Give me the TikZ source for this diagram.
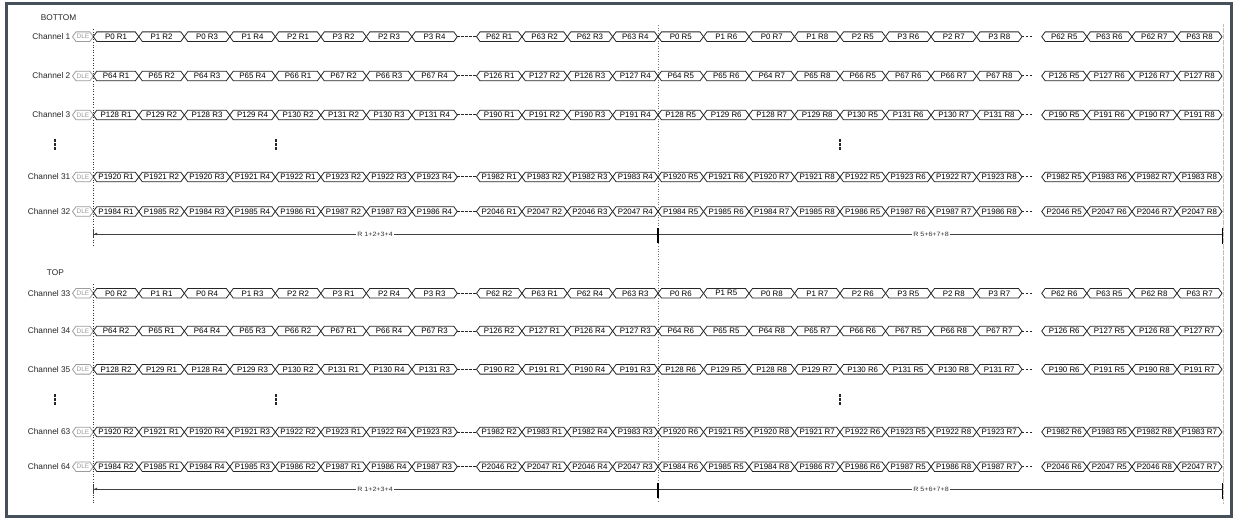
\documentclass[tikz,border=0pt]{standalone}
\usepackage{fontspec}
\setmainfont{Liberation Sans}
\usetikzlibrary{arrows.meta}
\definecolor{framec}{HTML}{46505A}
\definecolor{dlec}{HTML}{9C9C9C}
\newcommand\cellS{3.5}
\newcommand\cellH{4.8}
\tikzset{
  cellln/.style={draw=black!85, line width=0.8pt, line join=miter},
  dleln/.style={draw=dlec, line width=0.8pt},
  celltxt/.style={inner sep=0pt, font=\fontsize{7.9}{8}\selectfont, text=black},
  dletxt/.style={inner sep=0pt, font=\fontsize{6.5}{7}\selectfont, text=dlec},
  chlab/.style={inner sep=0pt, anchor=east, font=\fontsize{8.3}{9}\selectfont, text=black!85},
  seclab/.style={inner sep=0pt, anchor=west, font=\fontsize{8.3}{9}\selectfont, text=black!85},
  gapdash/.style={draw=black!85, line width=1pt, dash pattern=on 2.4pt off 1.6pt},
  vdots/.style={draw=black!85, line width=1.1pt, dash pattern=on 2.6pt off 1.6pt},
  bracketln/.style={draw=black!75, line width=0.8pt},
  ticknode/.style={draw=black, line width=1.6pt},
  brlab/.style={fill=white, inner sep=0.8pt, font=\fontsize{6.2}{7}\selectfont, text=black!80},
}
\newcommand\cellgrp[5]{%
  \foreach \t [count=\i from 0] in {#5} {%
    \pgfmathsetmacro\xL{#2+\i*#3}%
    \pgfmathsetmacro\xR{#2+(\i+1)*#3}%
    \pgfmathsetmacro\xM{#2+(\i+0.5)*#3}%
    \draw[cellln] (\xL,#1) -- (\xL+\cellS,#1-\cellH) -- (\xR-\cellS,#1-\cellH) -- (\xR,#1) -- (\xR-\cellS,#1+\cellH) -- (\xL+\cellS,#1+\cellH) -- cycle;
    \node[celltxt] (#4\i) at (\xM,#1) {\t};
  }%
}
\newcommand\chrow[6]{%
  \node[chlab] (lab#2) at (70.5,#1) {Channel #2};
  \draw[dleln] (72.5,#1) -- (72.5+\cellS,#1-\cellH) -- (93.3-\cellS,#1-\cellH) -- (93.3,#1) -- (93.3-\cellS,#1+\cellH) -- (72.5+\cellS,#1+\cellH) -- cycle;
  \node[dletxt] (dle#2) at (82.9,#1) {DLE};
  \cellgrp{#1}{93.3}{45.5}{c#2a}{#3}
  \coordinate (ga#2) at (457.3,#1);
  \coordinate (gb#2) at (476.5,#1);
  \draw[gapdash] (ga#2) -- (gb#2);
  \cellgrp{#1}{476.5}{45.375}{c#2b}{#4}
  \cellgrp{#1}{658}{45.5}{c#2c}{#5}
  \coordinate (gc#2) at (1022,#1);
  \coordinate (gd#2) at (1033,#1);
  \draw[gapdash] (gc#2) -- (gd#2);
  \cellgrp{#1}{1041.7}{45.075}{c#2d}{#6}
}
\begin{document}
\begin{tikzpicture}[x=1pt,y=-1pt]
\useasboundingbox (0,0) rectangle (1238,518);
\fill[white] (0,0) rectangle (1238,518);
% guide lines
\draw[black!80, line width=0.6pt, dotted] (93.3,29) -- (93.3,247);
\draw[black!80, line width=0.6pt, dotted] (93.3,284) -- (93.3,503);
\draw[black!55, line width=0.6pt, dotted] (658,25) -- (658,503);
\draw[black!25, line width=0.8pt, dash pattern=on 0.6pt off 0.6pt] (1223,24) -- (1223,503);
% section labels
\node[seclab] (secbottom) at (40.7,18) {BOTTOM};
\node[seclab] (sectop) at (46.7,273) {TOP};
% BOTTOM rows
\chrow{36.7}{1}{P0 R1,P1 R2,P0 R3,P1 R4,P2 R1,P3 R2,P2 R3,P3 R4}{P62 R1,P63 R2,P62 R3,P63 R4}{P0 R5,P1 R6,P0 R7,P1 R8,P2 R5,P3 R6,P2 R7,P3 R8}{P62 R5,P63 R6,P62 R7,P63 R8}
\chrow{76}{2}{P64 R1,P65 R2,P64 R3,P65 R4,P66 R1,P67 R2,P66 R3,P67 R4}{P126 R1,P127 R2,P126 R3,P127 R4}{P64 R5,P65 R6,P64 R7,P65 R8,P66 R5,P67 R6,P66 R7,P67 R8}{P126 R5,P127 R6,P126 R7,P127 R8}
\chrow{115}{3}{P128 R1,P129 R2,P128 R3,P129 R4,P130 R2,P131 R2,P130 R3,P131 R4}{P190 R1,P191 R2,P190 R3,P191 R4}{P128 R5,P129 R6,P128 R7,P129 R8,P130 R5,P131 R6,P130 R7,P131 R8}{P190 R5,P191 R6,P190 R7,P191 R8}
\chrow{177}{31}{P1920 R1,P1921 R2,P1920 R3,P1921 R4,P1922 R1,P1923 R2,P1922 R3,P1923 R4}{P1982 R1,P1983 R2,P1982 R3,P1983 R4}{P1920 R5,P1921 R6,P1920 R7,P1921 R8,P1922 R5,P1923 R6,P1922 R7,P1923 R8}{P1982 R5,P1983 R6,P1982 R7,P1983 R8}
\chrow{211.5}{32}{P1984 R1,P1985 R2,P1984 R3,P1985 R4,P1986 R1,P1987 R2,P1987 R3,P1986 R4}{P2046 R1,P2047 R2,P2046 R3,P2047 R4}{P1984 R5,P1985 R6,P1984 R7,P1985 R8,P1986 R5,P1987 R6,P1987 R7,P1986 R8}{P2046 R5,P2047 R6,P2046 R7,P2047 R8}
% TOP rows
\chrow{293.3}{33}{P0 R2,P1 R1,P0 R4,P1 R3,P2 R2,P3 R1,P2 R4,P3 R3}{P62 R2,P63 R1,P62 R4,P63 R3}{P0 R6,P1 R5,P0 R8,P1 R7,P2 R6,P3 R5,P2 R8,P3 R7}{P62 R6,P63 R5,P62 R8,P63 R7}
\chrow{331}{34}{P64 R2,P65 R1,P64 R4,P65 R3,P66 R2,P67 R1,P66 R4,P67 R3}{P126 R2,P127 R1,P126 R4,P127 R3}{P64 R6,P65 R5,P64 R8,P65 R7,P66 R6,P67 R5,P66 R8,P67 R7}{P126 R6,P127 R5,P126 R8,P127 R7}
\chrow{369.3}{35}{P128 R2,P129 R1,P128 R4,P129 R3,P130 R2,P131 R1,P130 R4,P131 R3}{P190 R2,P191 R1,P190 R4,P191 R3}{P128 R6,P129 R5,P128 R8,P129 R7,P130 R6,P131 R5,P130 R8,P131 R7}{P190 R6,P191 R5,P190 R8,P191 R7}
\chrow{432}{63}{P1920 R2,P1921 R1,P1920 R4,P1921 R3,P1922 R2,P1923 R1,P1922 R4,P1923 R3}{P1982 R2,P1983 R1,P1982 R4,P1983 R3}{P1920 R6,P1921 R5,P1920 R8,P1921 R7,P1922 R6,P1923 R5,P1922 R8,P1923 R7}{P1982 R6,P1983 R5,P1982 R8,P1983 R7}
\chrow{466.7}{64}{P1984 R2,P1985 R1,P1984 R4,P1985 R3,P1986 R2,P1987 R1,P1986 R4,P1987 R3}{P2046 R2,P2047 R1,P2046 R4,P2047 R3}{P1984 R6,P1985 R5,P1984 R8,P1986 R7,P1986 R6,P1987 R5,P1986 R8,P1987 R7}{P2046 R6,P2047 R5,P2046 R8,P2047 R7}
% vertical ellipses
\foreach \vx/\vn in {55/a,276/b,840/c}{
  \coordinate (vt\vn1) at (\vx,139);
  \coordinate (vb\vn1) at (\vx,151);
  \draw[vdots] (vt\vn1) -- (vb\vn1);
  \coordinate (vt\vn2) at (\vx,394);
  \coordinate (vb\vn2) at (\vx,406);
  \draw[vdots] (vt\vn2) -- (vb\vn2);
}
% brackets
\foreach \by/\bn in {234/u,489/l}{
  \coordinate (bl\bn) at (93.3,\by);
  \coordinate (bm\bn) at (658,\by);
  \coordinate (br\bn) at (1222.5,\by);
  \draw[bracketln, {Bar[width=9pt] Latex[length=3pt,width=3pt]}-] (bl\bn) -- (bm\bn);
  \draw[bracketln] (bm\bn) -- (br\bn);
  \draw[ticknode] (658,\by-6) -- (658,\by+9);
  \draw[ticknode] (1222.5,\by-6) -- (1222.5,\by+10);
  \node[brlab] (rl\bn) at (375,\by) {\scalebox{1.15}[1]{R 1+2+3+4}};
  \node[brlab] (rr\bn) at (931,\by) {\scalebox{1.15}[1]{R 5+6+7+8}};
}
% frame
\draw[framec, line width=3.3pt] (6.7,3.3) rectangle (1231.6,516.6);
\end{tikzpicture}
\end{document}
